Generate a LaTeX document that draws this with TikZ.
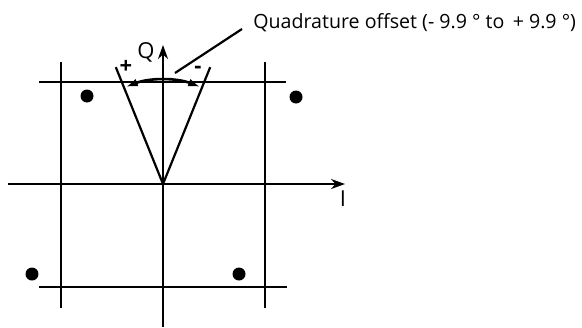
\documentclass[tikz,border=0pt]{standalone}
\usepackage{fontspec}
\setmainfont{Open Sans}
\usetikzlibrary{arrows.meta,positioning}

\begin{document}
\begin{tikzpicture}[
    x=0.5pt, y=0.5pt,
    font=\fontsize{9.8}{12}\selectfont,
    gridLine/.style={line width=1.1pt, draw=black},
    axisLine/.style={line width=1.2pt, -{Stealth[length=7pt, width=5pt]}},
    rayLine/.style={line width=1.1pt},
    offsetArc/.style={line width=1.3pt, {Latex[length=6pt, width=4pt]}-{Latex[length=6pt, width=4pt]}},
    symbolDot/.style={circle, fill=black, inner sep=0pt, minimum size=6.5pt},
    labelStyle/.style={inner sep=1pt}
]
\useasboundingbox (-163,-143) rectangle (419,184);

% Axes and grid
\coordinate (apex) at (0,0);
\coordinate (qLow) at (0,-143);
\coordinate (qHigh) at (0,139);
\coordinate (iLow) at (-155,0);
\coordinate (iHigh) at (182,0);

\draw[gridLine] (-102,122) -- (-102,-124);
\draw[gridLine] (102,122) -- (102,-124);
\draw[gridLine] (-124,102) -- (123,102);
\draw[gridLine] (-124,-103) -- (124,-103);

\draw[axisLine] (qLow) -- (qHigh);
\draw[axisLine] (iLow) -- (iHigh);

\node[labelStyle] (qLabel) at (-17,132) {\fontsize{11}{13}\selectfont Q};
\node[labelStyle] (iLabel) at (180,-15) {\fontsize{11}{13}\selectfont I};

% Constellation points
\node[symbolDot] (ptA) at (-76,88) {};
\node[symbolDot] (ptB) at (133,87) {};
\node[symbolDot] (ptC) at (-131,-90) {};
\node[symbolDot] (ptD) at (76,-90) {};

% Offset cone
\coordinate (rayPlus) at (112:126);
\coordinate (rayMinus) at (68:126);
\draw[rayLine] (apex) -- (rayPlus);
\draw[rayLine] (apex) -- (rayMinus);
\draw[offsetArc] (111:104) arc[start angle=111, end angle=69, radius=104];

\node[labelStyle] (plusLabel) at (-37,117) {\fontsize{11}{13}\selectfont\bfseries +};
\node[labelStyle] (minusLabel) at (35,114) {\fontsize{11}{13}\selectfont\bfseries -};

% Note with leader
\node[labelStyle, anchor=west] (offsetNote) at (88,161) {Quadrature offset (- 9.9 ° to \,+ 9.9 °)};
\coordinate (leadStart) at (79,155);
\coordinate (leadEnd) at (12,111);
\draw[rayLine] (leadStart) -- (leadEnd);

\end{tikzpicture}
\end{document}
